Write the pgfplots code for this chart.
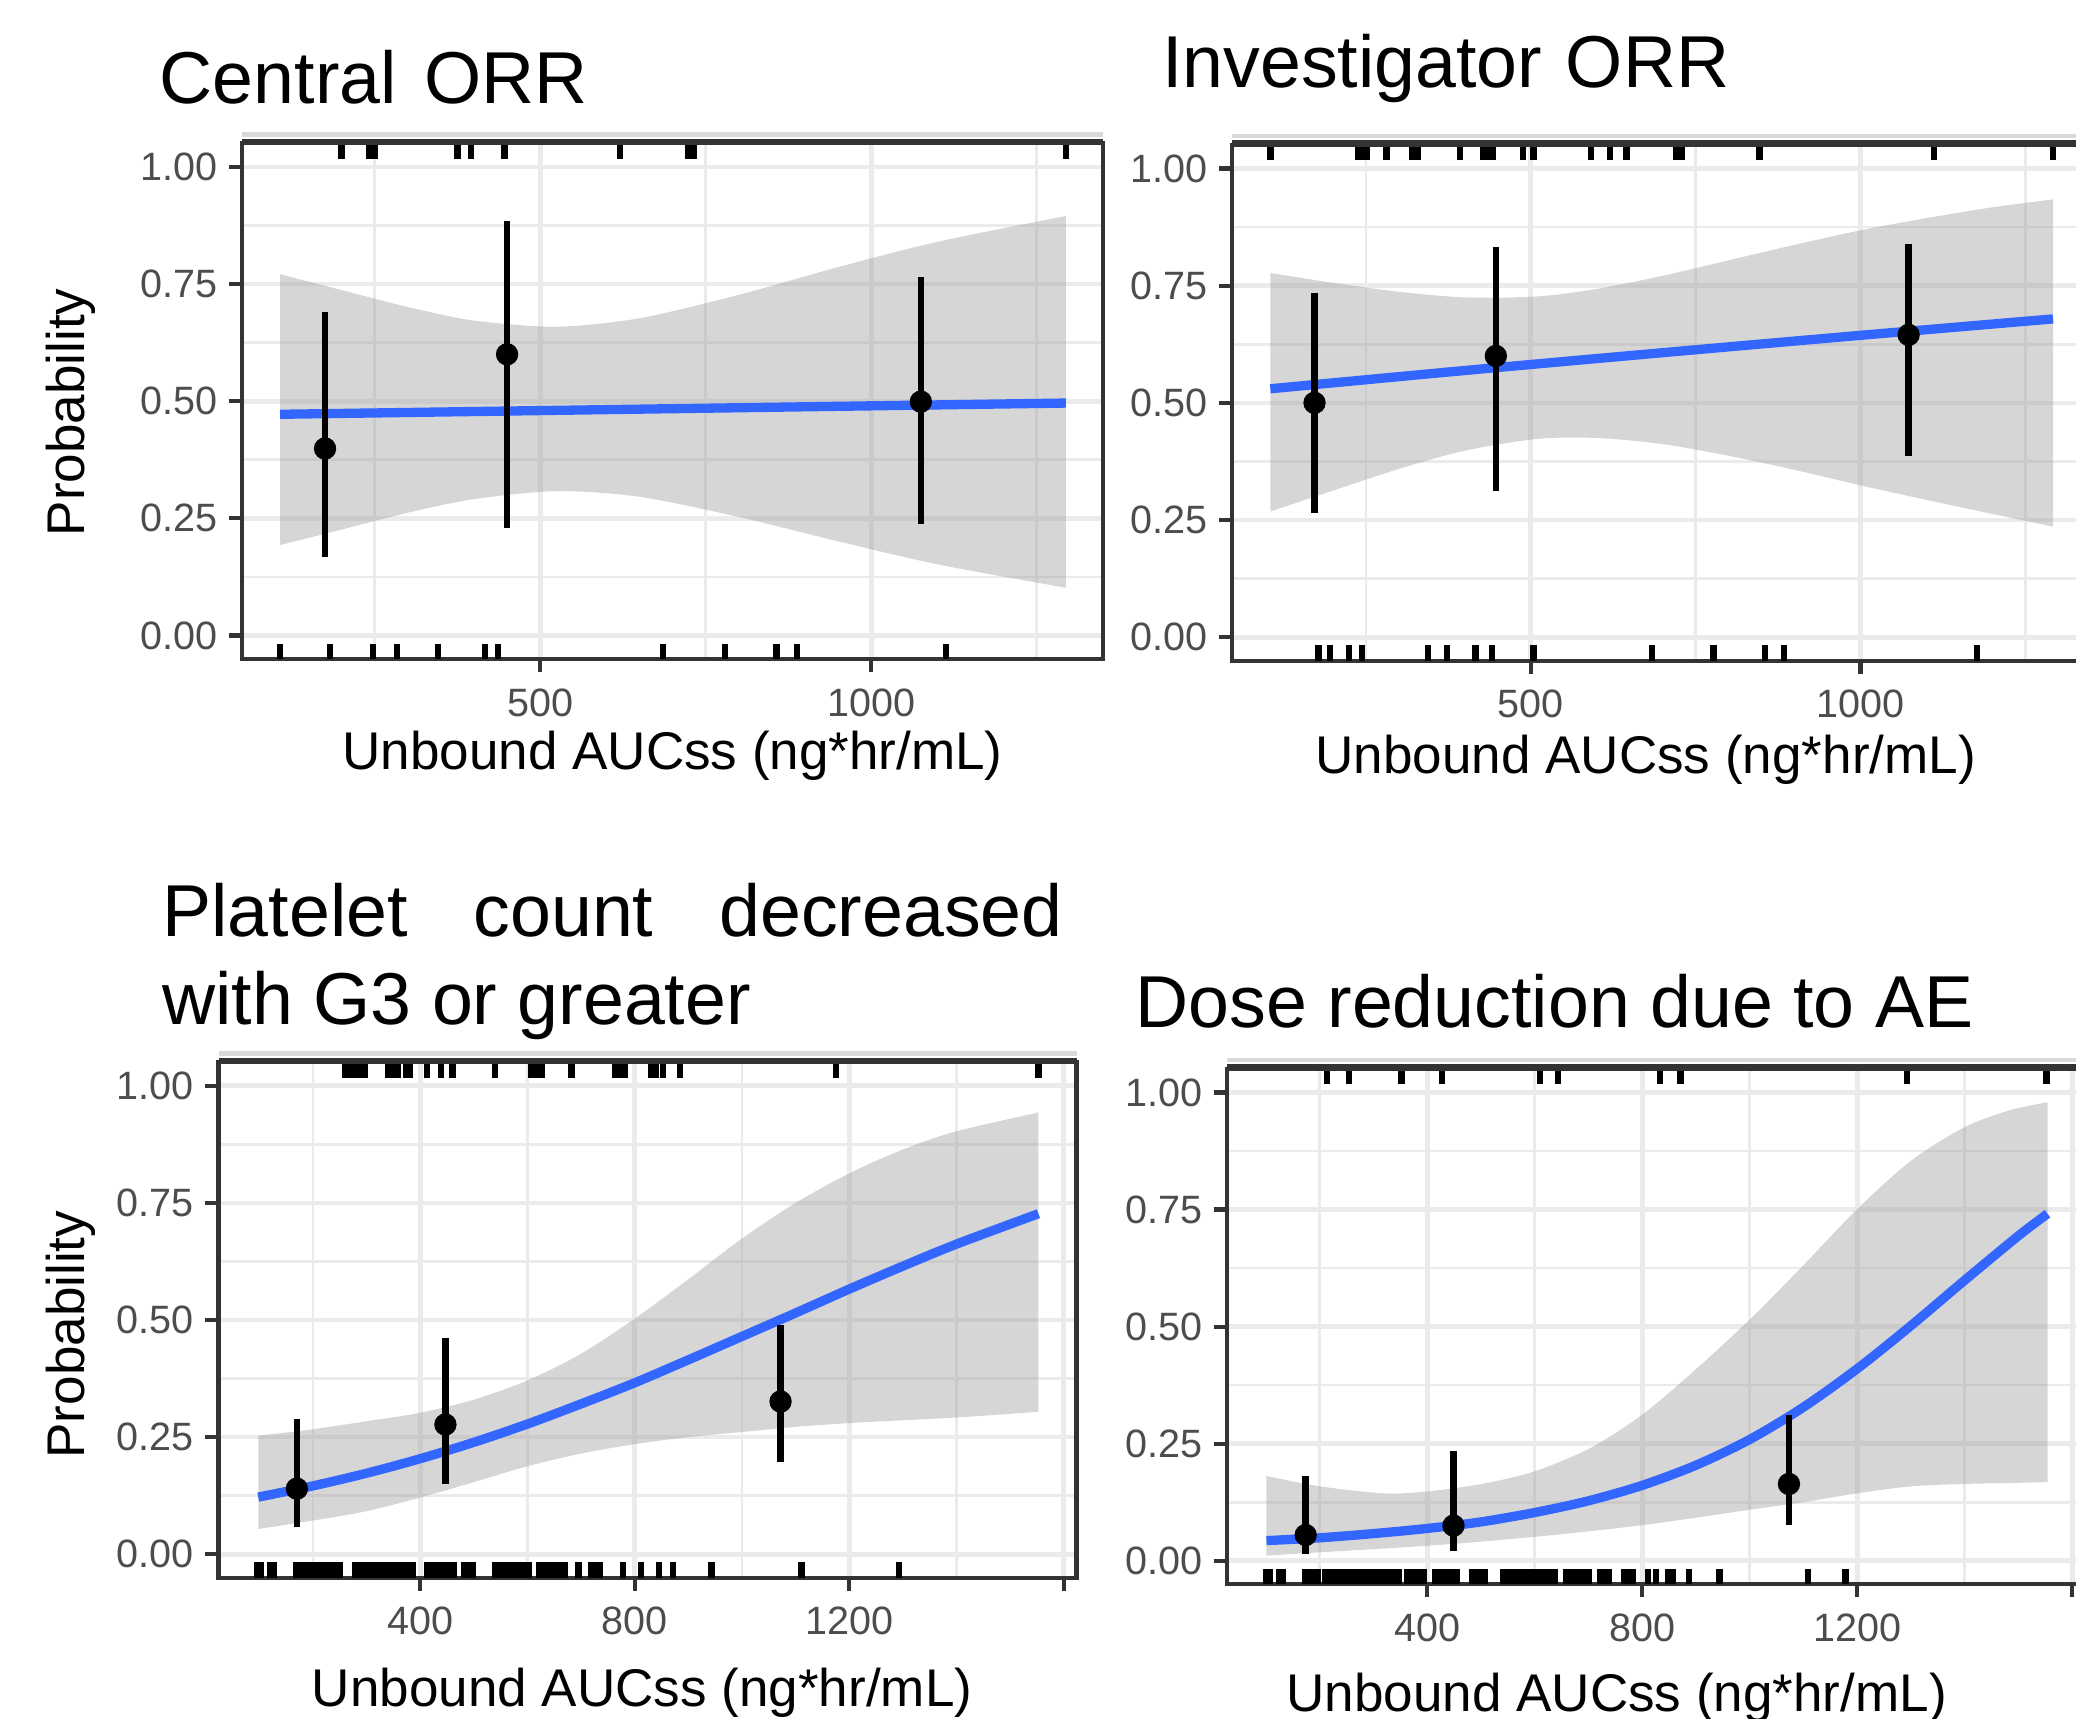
\documentclass[border=0pt]{standalone}
\usepackage{fontspec}
\setmainfont{Liberation Sans}
\usepackage{pgfplots}
\pgfplotsset{compat=1.18}
\usepgfplotslibrary{fillbetween}

\definecolor{gray20}{HTML}{333333}
\definecolor{gray30}{HTML}{4D4D4D}
\definecolor{grid92}{HTML}{EBEBEB}
\definecolor{band}{HTML}{D9D9D9}
\definecolor{ribbongray}{HTML}{999999}
\definecolor{smoothblue}{HTML}{3366FF}

\pgfplotsset{
  ggpanel/.style={
    scale only axis, anchor=north west,
    ymin=-0.05, ymax=1.05,
    ytick={0,0.25,0.5,0.75,1},
    yticklabels={0.00,0.25,0.50,0.75,1.00},
    minor ytick={0.125,0.375,0.625,0.875},
    grid=both,
    major grid style={draw=grid92, line width=1pt},
    minor grid style={draw=grid92, line width=0.55pt},
    axis line style={draw=gray20, line width=0.9pt},
    tick style={draw=gray20, line width=0.9pt},
    tick align=outside, major tick length=0.1cm, minor tick length=0pt,
    xtick pos=left, ytick pos=left,
    tick label style={font=\fontsize{8.5}{10}\selectfont, text=gray30},
    yticklabel style={xshift=1pt},
  },
  ribbon/.style={fill=ribbongray, fill opacity=0.4, draw=none},
  bound/.style={draw=none, smooth, no markers},
  fit/.style={smoothblue, line width=2pt, smooth, no markers},
  rug/.style={only marks, mark=|, mark size=1.66pt, mark options={line width=1.35pt, draw=black}},
  bins/.style={only marks, mark=*, mark size=2.2pt, mark options={fill=black, draw=black},
    error bars/.cd, y dir=both, y explicit, error mark=none,
    error bar style={line width=1.4pt, black}},
}
\newcommand{\titlefont}{\fontsize{15.8}{19}\selectfont}
\newcommand{\labfont}{\fontsize{11.4}{13}\selectfont}

\begin{document}
\begin{tikzpicture}

% ---------------- Central ORR
\begin{axis}[ggpanel, name=p1, at={(1.83cm,-1.083cm)}, width=6.50cm, height=3.894cm,
  xmin=50, xmax=1350, xtick={500,1000}, xticklabels={500,1000}, minor xtick={250,750,1250}]
  \addplot[bound, name path=up1] coordinates {(107,0.771) (200,0.737) (300,0.701) (400,0.672) (525,0.659) (650,0.677) (800,0.727) (950,0.786) (1100,0.840) (1294,0.895)};
  \addplot[bound, name path=lo1] coordinates {(107,0.193) (200,0.226) (300,0.262) (400,0.291) (525,0.308) (650,0.296) (800,0.253) (950,0.201) (1100,0.152) (1294,0.102)};
  \addplot[ribbon] fill between[of=up1 and lo1];
  \addplot[fit] coordinates {(107,0.472) (700,0.484) (1294,0.496)};
  \addplot[bins] coordinates {(175,0.399) += (0,0.291) -= (0,0.232) (450,0.600) += (0,0.284) -= (0,0.370) (1075,0.499) += (0,0.266) -= (0,0.262)};
  \addplot[rug] coordinates {(200,1.0335) (242,1.0335) (250,1.0335) (375,1.0335) (396,1.0335) (446,1.0335) (621,1.0335) (723,1.0335) (732,1.0335) (1294,1.0335)};
  \addplot[rug] coordinates {(107,-0.0335) (182,-0.0335) (247,-0.0335) (284,-0.0335) (346,-0.0335) (417,-0.0335) (436,-0.0335) (686,-0.0335) (779,-0.0335) (857,-0.0335) (888,-0.0335) (1113,-0.0335)};
\end{axis}

% ---------------- Investigator ORR
\begin{axis}[ggpanel, name=p2, at={(9.306cm,-1.095cm)}, width=6.494cm, height=3.895cm,
  xmin=47, xmax=1351, xtick={500,1000}, xticklabels={500,1000}, minor xtick={250,750,1250}]
  \addplot[bound, name path=up2] coordinates {(105,0.777) (200,0.756) (300,0.737) (400,0.725) (510,0.727) (600,0.743) (700,0.771) (800,0.804) (900,0.837) (1000,0.868) (1100,0.894) (1200,0.917) (1292,0.934)};
  \addplot[bound, name path=lo2] coordinates {(105,0.268) (200,0.313) (300,0.359) (400,0.398) (510,0.423) (600,0.425) (700,0.412) (800,0.387) (900,0.357) (1000,0.324) (1100,0.293) (1200,0.263) (1292,0.236)};
  \addplot[ribbon] fill between[of=up2 and lo2];
  \addplot[fit] coordinates {(105,0.530) (400,0.569) (700,0.607) (1000,0.644) (1292,0.679)};
  \addplot[bins] coordinates {(172,0.500) += (0,0.234) -= (0,0.234) (447,0.600) += (0,0.232) -= (0,0.287) (1073,0.645) += (0,0.194) -= (0,0.259)};
  \addplot[rug] coordinates {(105,1.0335) (238,1.0335) (243,1.0335) (252,1.0335) (281,1.0335) (320,1.0335) (328,1.0335) (393,1.0335) (428,1.0335) (435,1.0335) (443,1.0335) (488,1.0335) (504,1.0335) (591,1.0335) (620,1.0335) (645,1.0335) (721,1.0335) (729,1.0335) (847,1.0335) (1111,1.0335) (1292,1.0335)};
  \addplot[rug] coordinates {(178,-0.0335) (195,-0.0335) (224,-0.0335) (244,-0.0335) (344,-0.0335) (373,-0.0335) (416,-0.0335) (441,-0.0335) (504,-0.0335) (684,-0.0335) (777,-0.0335) (855,-0.0335) (884,-0.0335) (1177,-0.0335)};
\end{axis}

% ---------------- Platelet count decreased
\begin{axis}[ggpanel, name=p3, at={(1.651cm,-8.024cm)}, width=6.48cm, height=3.892cm,
  xmin=24, xmax=1624, xtick={400,800,1200,1600}, xticklabels={400,800,1200,{}}, minor xtick={200,600,1000,1400}]
  \addplot[bound, name path=up3] coordinates {(98,0.253) (200,0.267) (300,0.284) (400,0.302) (500,0.330) (600,0.371) (700,0.428) (800,0.503) (900,0.587) (1000,0.674) (1100,0.750) (1200,0.813) (1300,0.864) (1400,0.903) (1553,0.943)};
  \addplot[bound, name path=lo3] coordinates {(98,0.054) (200,0.072) (300,0.092) (400,0.121) (500,0.154) (600,0.188) (700,0.215) (800,0.235) (900,0.250) (1000,0.261) (1100,0.272) (1200,0.280) (1300,0.286) (1400,0.292) (1553,0.304)};
  \addplot[ribbon] fill between[of=up3 and lo3];
  \addplot[fit] coordinates {(98,0.122) (200,0.146) (300,0.173) (400,0.204) (500,0.239) (600,0.278) (700,0.321) (800,0.366) (900,0.415) (1000,0.465) (1100,0.515) (1200,0.566) (1300,0.615) (1400,0.662) (1553,0.727)};
  \addplot[bins] coordinates {(170,0.140) += (0,0.148) -= (0,0.081) (447,0.277) += (0,0.184) -= (0,0.128) (1072,0.326) += (0,0.163) -= (0,0.129)};
  \addplot[rug] coordinates {(260,1.0335) (271,1.0335) (281,1.0335) (291,1.0335) (297,1.0335) (340,1.0335) (348,1.0335) (359,1.0335) (374,1.0335) (381,1.0335) (412,1.0335) (439,1.0335) (460,1.0335) (540,1.0335) (607,1.0335) (615,1.0335) (626,1.0335) (682,1.0335) (764,1.0335) (772,1.0335) (781,1.0335) (831,1.0335) (840,1.0335) (853,1.0335) (884,1.0335) (1176,1.0335) (1553,1.0335)};
  \addplot[rug] coordinates {(95,-0.0335) (102,-0.0335) (121,-0.0335) (127,-0.0335) (168,-0.0335) (176,-0.0335) (183,-0.0335) (192,-0.0335) (199,-0.0335) (209,-0.0335) (217,-0.0335) (225,-0.0335) (234,-0.0335) (243,-0.0335) (251,-0.0335) (279,-0.0335) (286,-0.0335) (294,-0.0335) (303,-0.0335) (312,-0.0335) (320,-0.0335) (328,-0.0335) (336,-0.0335) (344,-0.0335) (351,-0.0335) (360,-0.0335) (369,-0.0335) (377,-0.0335) (386,-0.0335) (412,-0.0335) (421,-0.0335) (429,-0.0335) (437,-0.0335) (447,-0.0335) (455,-0.0335) (462,-0.0335) (481,-0.0335) (489,-0.0335) (499,-0.0335) (540,-0.0335) (547,-0.0335) (555,-0.0335) (563,-0.0335) (576,-0.0335) (584,-0.0335) (592,-0.0335) (602,-0.0335) (622,-0.0335) (631,-0.0335) (638,-0.0335) (646,-0.0335) (654,-0.0335) (663,-0.0335) (669,-0.0335) (695,-0.0335) (719,-0.0335) (727,-0.0335) (735,-0.0335) (778,-0.0335) (812,-0.0335) (845,-0.0335) (871,-0.0335) (943,-0.0335) (1111,-0.0335) (1293,-0.0335)};
\end{axis}

% ---------------- Dose reduction due to AE
\begin{axis}[ggpanel, name=p4, at={(9.269cm,-8.074cm)}, width=6.492cm, height=3.891cm,
  xmin=28, xmax=1627, xtick={400,800,1200,1600}, xticklabels={400,800,1200,{}}, minor xtick={200,600,1000,1400}]
  \addplot[bound, name path=up4] coordinates {(101,0.181) (200,0.159) (319,0.144) (400,0.148) (501,0.164) (600,0.191) (704,0.241) (800,0.312) (896,0.405) (1001,0.516) (1099,0.630) (1200,0.751) (1301,0.855) (1400,0.926) (1484,0.962) (1554,0.979)};
  \addplot[bound, name path=lo4] coordinates {(101,0.011) (200,0.018) (400,0.032) (600,0.051) (800,0.076) (1001,0.109) (1099,0.125) (1200,0.144) (1301,0.159) (1400,0.164) (1484,0.166) (1554,0.168)};
  \addplot[ribbon] fill between[of=up4 and lo4];
  \addplot[fit] coordinates {(101,0.043) (200,0.049) (300,0.058) (400,0.069) (500,0.083) (600,0.103) (700,0.128) (800,0.161) (900,0.204) (1000,0.259) (1100,0.328) (1200,0.410) (1300,0.502) (1400,0.599) (1500,0.694) (1554,0.741)};
  \addplot[bins] coordinates {(174,0.055) += (0,0.126) -= (0,0.041) (449,0.075) += (0,0.160) -= (0,0.054) (1073,0.164) += (0,0.148) -= (0,0.088)};
  \addplot[rug] coordinates {(213,1.0335) (255,1.0335) (352,1.0335) (428,1.0335) (610,1.0335) (643,1.0335) (833,1.0335) (871,1.0335) (1293,1.0335) (1552,1.0335)};
  \addplot[rug] coordinates {(101,-0.0335) (108,-0.0335) (125,-0.0335) (131,-0.0335) (173,-0.0335) (180,-0.0335) (187,-0.0335) (197,-0.0335) (210,-0.0335) (218,-0.0335) (226,-0.0335) (234,-0.0335) (242,-0.0335) (250,-0.0335) (258,-0.0335) (266,-0.0335) (274,-0.0335) (283,-0.0335) (291,-0.0335) (299,-0.0335) (307,-0.0335) (315,-0.0335) (323,-0.0335) (331,-0.0335) (339,-0.0335) (347,-0.0335) (362,-0.0335) (370,-0.0335) (378,-0.0335) (386,-0.0335) (394,-0.0335) (415,-0.0335) (423,-0.0335) (431,-0.0335) (439,-0.0335) (448,-0.0335) (456,-0.0335) (483,-0.0335) (491,-0.0335) (499,-0.0335) (507,-0.0335) (542,-0.0335) (550,-0.0335) (558,-0.0335) (566,-0.0335) (578,-0.0335) (586,-0.0335) (594,-0.0335) (603,-0.0335) (611,-0.0335) (619,-0.0335) (627,-0.0335) (637,-0.0335) (659,-0.0335) (667,-0.0335) (675,-0.0335) (684,-0.0335) (692,-0.0335) (700,-0.0335) (722,-0.0335) (730,-0.0335) (738,-0.0335) (767,-0.0335) (775,-0.0335) (782,-0.0335) (811,-0.0335) (825,-0.0335) (849,-0.0335) (857,-0.0335) (887,-0.0335) (944,-0.0335) (1109,-0.0335) (1178,-0.0335)};
\end{axis}

% top borders with the light band above them
\foreach \p in {p1,p2,p3,p4}{
  \draw[band, line width=0.9pt] ([yshift=1.9pt]\p.north west) -- ([yshift=1.9pt]\p.north east);
  \draw[gray20, line width=1.4pt] ([yshift=0.3pt]\p.north west) -- ([yshift=0.3pt]\p.north east);
}

% titles
\node[anchor=base west, inner sep=0pt, font=\titlefont] at (1.20,-0.78) {Central\hspace{0.21cm}ORR};
\node[anchor=base west, inner sep=0pt, font=\titlefont] at (8.77,-0.66) {Investigator\hspace{0.18cm}ORR};
\node[anchor=base west, inner sep=0pt, font=\titlefont] at (1.22,-7.07) {\makebox[6.80cm][s]{Platelet count decreased}};
\node[anchor=base west, inner sep=0pt, font=\titlefont] at (1.22,-7.74) {with G3 or greater};
\node[anchor=base west, inner sep=0pt, font=\titlefont] at (8.57,-7.76) {Dose reduction due to AE};

% axis titles
\node[anchor=base, inner sep=0pt, font=\labfont] at (5.08,-5.81) {Unbound AUCss (ng*hr/mL)};
\node[anchor=base, inner sep=0pt, font=\labfont] at (12.43,-5.84) {Unbound AUCss (ng*hr/mL)};
\node[anchor=base, inner sep=0pt, font=\labfont] at (4.85,-12.89) {Unbound AUCss (ng*hr/mL)};
\node[anchor=base, inner sep=0pt, font=\labfont] at (12.21,-12.93) {Unbound AUCss (ng*hr/mL)};
\node[anchor=base, inner sep=0pt, rotate=90, font=\labfont] at (0.64,-3.115) {Probability};
\node[anchor=base, inner sep=0pt, rotate=90, font=\labfont] at (0.64,-10.08) {Probability};

\pgfresetboundingbox
\useasboundingbox (0,0) rectangle (15.68,-12.98);
\end{tikzpicture}
\end{document}
